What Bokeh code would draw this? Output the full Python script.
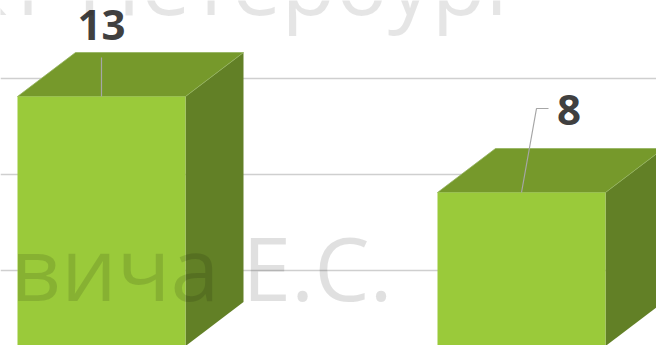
from bokeh.plotting import figure
from bokeh.models import Grid, SingleIntervalTicker, Range1d
from bokeh.core.properties import value
from bokeh.embed import file_html
from bokeh.resources import INLINE

# ---- data ----
categories = ["A", "B"]
values = [13, 8]
labels = ["13", "8"]

# ---- layout / style constants ----
W, H = 656, 345
PAGE = 0
X0_PX, X_STEP_PX = 101, 420   # page px of first bar centre, px per category
Y_REF_PX, Y_REF_V, Y_PX_PER_UNIT = 78, 15, 19.2
BASE_FIX = 0.39               # alphabetic baseline correction (em)

def xd(px):
    return (px - X0_PX) / X_STEP_PX

def yd(py):
    return Y_REF_V + (Y_REF_PX - py) / Y_PX_PER_UNIT

def dxd(px):
    return px / X_STEP_PX

def dyd(px):
    return px / Y_PX_PER_UNIT

HALF = dxd(84)
DEPTH_X = dxd(58)
DEPTH_Y = dyd(44)
LIFT = dyd(20.4)

FRONT = "#9ACA3A"
TOP = "#76992B"
SIDE = "#628026"

p = figure(width=W, height=H, output_backend="svg", toolbar_location=None,
           x_axis_type=None, y_axis_type=None, min_border=0,
           x_range=Range1d(xd(PAGE), xd(PAGE + W)),
           y_range=Range1d(yd(PAGE + H), yd(PAGE)))
p.outline_line_color = None
p.background_fill_color = "white"
p.border_fill_color = "white"

p.add_layout(Grid(dimension=1, ticker=SingleIntervalTicker(interval=5),
                  grid_line_color="#CFCFCF", grid_line_width=1.5))

fx, fy, tx, ty, sx, sy = [], [], [], [], [], []
for i, v in enumerate(values):
    c = i
    b = LIFT
    t = v + LIFT
    fx.append([c - HALF, c + HALF, c + HALF, c - HALF])
    fy.append([b, b, t, t])
    tx.append([c - HALF, c + HALF, c + HALF + DEPTH_X, c - HALF + DEPTH_X])
    ty.append([t, t, t + DEPTH_Y, t + DEPTH_Y])
    sx.append([c + HALF, c + HALF + DEPTH_X, c + HALF + DEPTH_X, c + HALF])
    sy.append([b, b + DEPTH_Y, t + DEPTH_Y, t])

p.patches(sx, sy, fill_color=SIDE, line_color=None)
p.patches(tx, ty, fill_color=TOP, line_color="#93B25E", line_width=0.8)
p.patches(fx, fy, fill_color=FRONT, line_color=None)

# leader lines and labels (offsets in pixels from front-top centre, up = positive)
leader_px = [[(0, 0), (0, 39)], [(0, 0), (15, 84), (27, 84)]]
label_px = [(0, 55), (47.5, 66)]
LABEL_FS = 42
for i, v in enumerate(values):
    ax, ay = i, v + LIFT
    xs = [ax + dxd(a) for a, _ in leader_px[i]]
    ys = [ay + dyd(b) for _, b in leader_px[i]]
    p.line(xs, ys, line_color="#A6A6A6", line_width=1.2)
    p.text([ax + dxd(label_px[i][0])], [ay + dyd(label_px[i][1] + BASE_FIX * LABEL_FS)],
           text=[labels[i]], text_font=value("Open Sans"), text_font_style="bold",
           text_font_size=f"{LABEL_FS}px", text_color="#404040",
           text_align="center", text_baseline="alphabetic")

# watermark
WM_FS = 88
p.text([xd(10)], [yd(301 - BASE_FIX * WM_FS)], text=["вича Е.С."], text_font=value("Open Sans"),
       text_font_size=f"{WM_FS}px", text_color="black", text_alpha=0.12,
       text_align="left", text_baseline="alphabetic")
p.text([xd(523)], [yd(15 - BASE_FIX * WM_FS)], text=["Санкт-Петербург"], text_font=value("Open Sans"),
       text_font_size=f"{WM_FS}px", text_color="black", text_alpha=0.10,
       text_align="right", text_baseline="alphabetic")

open("out.html", "w").write(file_html(p, INLINE))
